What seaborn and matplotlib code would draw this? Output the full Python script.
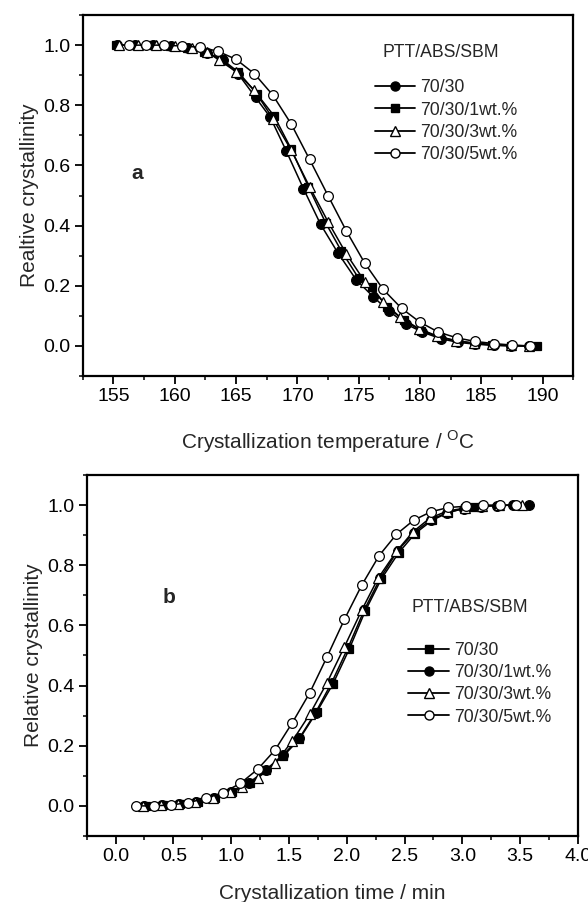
import matplotlib
matplotlib.use('Agg')
import matplotlib.pyplot as plt
import matplotlib.ticker as mticker
from matplotlib.lines import Line2D
import seaborn as sns

# =============================================================================
# Dados (a: temperatura, b: tempo)
# =============================================================================

SERIES_A = ['70/30', '70/30/1wt.%', '70/30/3wt.%', '70/30/5wt.%']
SERIES_B = ['70/30', '70/30/1wt.%', '70/30/3wt.%', '70/30/5wt.%']

# painel a - temperatura (°C)
temp_7030 = [155.3, 156.8, 158.2, 159.7, 161.1, 162.6, 163.9, 165.2, 166.6, 167.8, 169.1,
             170.5, 171.9, 173.3, 174.8, 176.2, 177.5, 178.9, 180.2, 181.7, 183.1, 184.5,
             186.0, 187.4, 188.9]
xc_7030 = [1.0, 1.0, 1.0, 0.997, 0.99, 0.975, 0.95, 0.903, 0.826, 0.76, 0.648,
           0.523, 0.404, 0.31, 0.22, 0.163, 0.115, 0.072, 0.046, 0.024, 0.012, 0.006,
           0.002, 0.0, 0.0]

temp_1wt = [155.2, 156.7, 158.2, 159.6, 161.0, 162.4, 163.8, 165.2, 166.7, 168.1, 169.5,
            170.9, 172.3, 173.6, 175.0, 176.1, 177.3, 178.7, 180.1, 181.6, 183.0, 184.5,
            185.9, 187.4, 189.5]
xc_1wt = [1.0, 1.0, 1.0, 0.998, 0.99, 0.978, 0.955, 0.91, 0.838, 0.765, 0.655,
          0.53, 0.41, 0.315, 0.225, 0.195, 0.13, 0.085, 0.05, 0.03, 0.016, 0.008,
          0.003, 0.001, 0.0]

temp_3wt = [155.5, 157.0, 158.5, 160.0, 161.4, 162.6, 163.6, 165.0, 166.5, 168.0, 169.5,
            171.0, 172.5, 174.0, 175.5, 177.0, 178.4, 179.9, 181.4, 182.9, 184.4, 185.9,
            187.4, 188.9]
xc_3wt = [1.0, 1.0, 1.0, 0.998, 0.99, 0.978, 0.951, 0.912, 0.85, 0.756, 0.651,
          0.529, 0.413, 0.306, 0.214, 0.147, 0.095, 0.058, 0.033, 0.018, 0.01, 0.005,
          0.002, 0.0]

temp_5wt = [156.3, 157.7, 159.1, 160.6, 162.1, 163.5, 165.0, 166.5, 168.0, 169.5, 171.0,
            172.5, 174.0, 175.5, 177.0, 178.5, 180.0, 181.5, 183.0, 184.5, 186.0, 187.5,
            189.0]
xc_5wt = [1.0, 1.0, 1.0, 0.997, 0.993, 0.98, 0.953, 0.905, 0.834, 0.738, 0.62,
          0.50, 0.382, 0.275, 0.188, 0.125, 0.079, 0.046, 0.027, 0.015, 0.008, 0.003,
          0.0]

# painel b - tempo (min)
time_7030 = [0.26, 0.41, 0.56, 0.71, 0.86, 1.01, 1.16, 1.30, 1.45, 1.59, 1.74, 1.88,
             2.02, 2.16, 2.30, 2.45, 2.59, 2.74, 2.88, 3.02, 3.10]
xt_7030 = [0.0, 0.002, 0.006, 0.013, 0.025, 0.045, 0.075, 0.118, 0.165, 0.222, 0.312,
           0.405, 0.52, 0.648, 0.755, 0.842, 0.905, 0.95, 0.975, 0.99, 0.995]

time_1wt = [0.25, 0.40, 0.55, 0.70, 0.85, 1.00, 1.15, 1.30, 1.45, 1.59, 1.73, 1.87,
            2.01, 2.15, 2.29, 2.44, 2.58, 2.73, 2.87, 3.01, 3.16, 3.30, 3.44, 3.58]
xt_1wt = [0.0, 0.002, 0.006, 0.013, 0.025, 0.045, 0.075, 0.12, 0.17, 0.225, 0.31,
          0.41, 0.525, 0.65, 0.757, 0.848, 0.908, 0.952, 0.975, 0.988, 0.995, 0.998,
          1.0, 1.0]

time_3wt = [0.24, 0.39, 0.54, 0.69, 0.84, 0.99, 1.09, 1.23, 1.38, 1.53, 1.68, 1.83,
            1.98, 2.13, 2.27, 2.43, 2.57, 2.72, 2.87, 3.02, 3.17, 3.32, 3.52]
xt_3wt = [0.0, 0.002, 0.006, 0.013, 0.025, 0.045, 0.062, 0.092, 0.142, 0.216, 0.305,
          0.41, 0.529, 0.651, 0.756, 0.846, 0.91, 0.957, 0.98, 0.99, 0.996, 0.999, 1.0]

time_5wt = [0.18, 0.33, 0.48, 0.63, 0.78, 0.93, 1.08, 1.23, 1.38, 1.53, 1.68, 1.83,
            1.98, 2.13, 2.28, 2.43, 2.58, 2.73, 2.88, 3.03, 3.18, 3.33, 3.46]
xt_5wt = [0.0, 0.0, 0.003, 0.011, 0.025, 0.044, 0.075, 0.122, 0.186, 0.277, 0.376,
          0.496, 0.62, 0.734, 0.832, 0.903, 0.95, 0.978, 0.992, 0.996, 1.0, 1.0, 1.0]

# estilo dos marcadores (cheio / vazio)
ESTILO_A = {
    '70/30': ('o', 'black'), '70/30/1wt.%': ('s', 'black'),
    '70/30/3wt.%': ('^', 'white'), '70/30/5wt.%': ('o', 'white'),
}
ESTILO_B = {
    '70/30': ('s', 'black'), '70/30/1wt.%': ('o', 'black'),
    '70/30/3wt.%': ('^', 'white'), '70/30/5wt.%': ('o', 'white'),
}

# =============================================================================
# Figura
# =============================================================================
sns.set_style('ticks')
plt.rcParams['font.family'] = ['Liberation Sans', 'DejaVu Sans']
plt.rcParams['mathtext.fontset'] = 'custom'
plt.rcParams['mathtext.rm'] = 'Liberation Sans'

fig = plt.figure(figsize=(5.88, 9.02), dpi=100)
ax_a = fig.add_axes([0.1406, 0.5831, 0.8344, 0.4002])
ax_b = fig.add_axes([0.1474, 0.0732, 0.8355, 0.4002])


def tamanho(m):
    return 6.2 if m == 's' else 7


def desenhar(ax, xs, ys, nomes, estilos):
    for x, y, nome in zip(xs, ys, nomes):
        marcador, face = estilos[nome]
        sns.lineplot(x=x, y=y, ax=ax, sort=False, color='black', lw=1.1,
                     marker=marcador, markersize=tamanho(marcador),
                     markerfacecolor=face, markeredgecolor='black',
                     markeredgewidth=0.9, legend=False)


def legenda(ax, nomes, estilos, x0, y0):
    handles = [Line2D([], [], color='black', lw=1.3, marker=estilos[n][0],
                      markersize=tamanho(estilos[n][0]) - 0.5,
                      markerfacecolor=estilos[n][1], markeredgecolor='black')
               for n in nomes]
    ax.legend(handles, nomes, loc='upper left', bbox_to_anchor=(x0, y0),
              frameon=False, fontsize=12.7, handlelength=2.3, handletextpad=0.3,
              labelspacing=0.3, borderaxespad=0, borderpad=0)


def formatar(ax, xlim, major, minor, xlabel, ylabel, labelpad):
    ax.set_xlim(*xlim)
    ax.set_ylim(-0.1, 1.1)
    ax.xaxis.set_major_locator(mticker.MultipleLocator(major))
    ax.xaxis.set_minor_locator(mticker.MultipleLocator(minor))
    ax.yaxis.set_major_locator(mticker.FixedLocator([0, 0.2, 0.4, 0.6, 0.8, 1.0]))
    ax.yaxis.set_minor_locator(mticker.MultipleLocator(0.1))
    ax.yaxis.set_major_formatter(mticker.FormatStrFormatter('%.1f'))
    ax.xaxis.set_major_formatter(mticker.FormatStrFormatter('%.1f' if major < 1 else '%d'))
    ax.tick_params(which='major', direction='out', length=5.5, width=1.3,
                   labelsize=14, pad=3, colors='black')
    ax.tick_params(which='minor', direction='out', length=3, width=1.3)
    for s in ax.spines.values():
        s.set_linewidth(1.6)
        s.set_color('black')
    ax.set_xlabel(xlabel, fontsize=15, labelpad=labelpad)
    ax.set_ylabel(ylabel, fontsize=15, labelpad=3)


# --- painel a ---
desenhar(ax_a, [temp_7030, temp_1wt, temp_3wt, temp_5wt],
         [xc_7030, xc_1wt, xc_3wt, xc_5wt], SERIES_A, ESTILO_A)
formatar(ax_a, (152.5, 192.5), 5, 2.5,
         r'Crystallization temperature / $^{\rm O}$C', 'Realtive crystallinity', 17)
ax_a.text(0.111, 0.562, 'a', transform=ax_a.transAxes, fontsize=15,
          weight='bold', ha='center', va='center')
ax_a.text(0.611, 0.897, 'PTT/ABS/SBM', transform=ax_a.transAxes, fontsize=12.7,
          va='center')
legenda(ax_a, SERIES_A, ESTILO_A, 0.595, 0.822)

# --- painel b ---
desenhar(ax_b, [time_7030, time_1wt, time_3wt, time_5wt],
         [xt_7030, xt_1wt, xt_3wt, xt_5wt], SERIES_B, ESTILO_B)
formatar(ax_b, (-0.25, 4.0), 0.5, 0.25,
         'Crystallization time / min', 'Relative crystallinity', 14)
ax_b.text(0.1675, 0.662, 'b', transform=ax_b.transAxes, fontsize=15,
          weight='bold', ha='center', va='center')
ax_b.text(0.662, 0.632, 'PTT/ABS/SBM', transform=ax_b.transAxes, fontsize=12.7,
          va='center')
legenda(ax_b, SERIES_B, ESTILO_B, 0.655, 0.538)

fig.savefig('out.png', dpi=100)
